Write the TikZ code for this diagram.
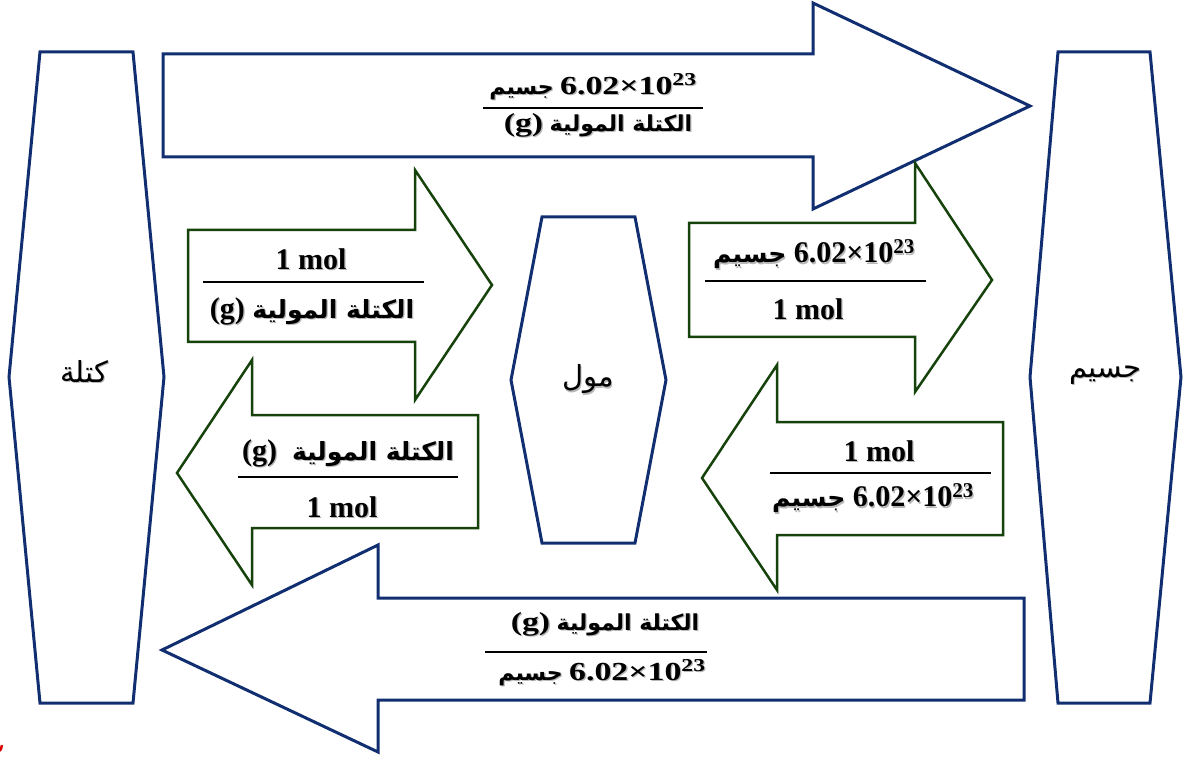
\documentclass[tikz,border=0pt]{standalone}
\usepackage{fontspec}
\usepackage{graphicx}
\setmainfont{Liberation Serif}
\newfontfamily\arabicfont[Script=Arabic]{DejaVu Sans}
\TeXXeTstate=1
\definecolor{navyline}{RGB}{16,46,112}
\definecolor{greenline}{RGB}{22,66,12}
\newcommand\ar[1]{{\arabicfont\beginR #1\endR}}
\newcommand\arw[1]{{\arabicfont\fontsize{25}{28}\selectfont\beginR #1\endR}}
\newcommand\arn[1]{{\arabicfont\fontsize{22}{24}\selectfont\beginR #1\endR}}
\newcommand\shd[1]{\rlap{\kern1.3pt\raisebox{-1.3pt}{\color{black!28}#1}}#1}
\newcommand\avog{6.02×10\textsuperscript{23}}
\newcommand\wide[1]{\scalebox{1.3}[1]{#1}}
\tikzset{
  hexa/.style={draw=navyline, line width=3pt, fill=white},
  bigarrow/.style={draw=navyline, line width=3pt, fill=white},
  smallarrow/.style={draw=greenline, line width=2.5pt, fill=white},
  hexlabel/.style={font=\fontsize{29}{34}\selectfont, inner sep=0pt},
  fractext/.style={font=\bfseries\fontsize{30}{34}\selectfont, inner sep=0pt},
  widetext/.style={font=\bfseries\fontsize{26}{30}\selectfont, inner sep=0pt},
  fracbar/.style={line width=1.3pt, black}
}
\begin{document}
\begin{tikzpicture}[x=1pt, y=-1pt]
  \useasboundingbox (0,0) rectangle (1184,759);

  % Big arrows
  \draw[bigarrow] (163,54) -- (813,54) -- (813,3) -- (1030,106) -- (813,209) -- (813,157) -- (163,157) -- cycle;
  \draw[bigarrow] (1024,598) -- (378,598) -- (378,545) -- (162,650) -- (378,752) -- (378,700) -- (1024,700) -- cycle;

  % Small arrows
  \draw[smallarrow] (188,230) -- (415,230) -- (415,170) -- (492,285) -- (415,400) -- (415,342) -- (188,342) -- cycle;
  \draw[smallarrow] (689,223) -- (915,223) -- (915,163) -- (992,280) -- (915,392) -- (915,337) -- (689,337) -- cycle;
  \draw[smallarrow] (478,415) -- (252,415) -- (252,360) -- (177,473) -- (252,585) -- (252,528) -- (478,528) -- cycle;
  \draw[smallarrow] (1003,422) -- (777,422) -- (777,365) -- (702,478) -- (777,590) -- (777,535) -- (1003,535) -- cycle;

  % Hexagons
  \draw[hexa] (40,52) -- (133,52) -- (164,377) -- (133,703) -- (40,703) -- (9,377) -- cycle;
  \draw[hexa] (542,217) -- (635,217) -- (666,380) -- (635,543) -- (542,543) -- (511,380) -- cycle;
  \draw[hexa] (1058,52) -- (1150,52) -- (1181,377) -- (1150,703) -- (1058,703) -- (1030,377) -- cycle;

  \node[hexlabel] (mass) at (84,372) {\shd{\ar{كتلة}}};
  \node[hexlabel] (mole) at (588,380) {\shd{\ar{مول}}};
  \node[hexlabel] (particle) at (1105,376) {\shd{\ar{جسيم}}};

  % Top arrow: mass -> particles
  \node[widetext] (topnum) at (593,87) {\shd{\arn{جسيم}~\wide{\avog}}};
  \node[widetext] (topden) at (598,126) {\shd{\wide{(g)}~\arn{الكتلة المولية}}};
  \draw[fracbar] (483,108) -- (703,108);

  % Bottom arrow: particles -> mass
  \node[widetext] (botnum) at (605,625) {\shd{\wide{(g)}~\arn{الكتلة المولية}}};
  \node[widetext] (botden) at (602,673) {\shd{\arn{جسيم}~\wide{\avog}}};
  \draw[fracbar] (485,652) -- (707,652);

  % Mass -> mole
  \node[fractext] (mmnum) at (311,260) {\shd{1 mol}};
  \node[fractext] (mmden) at (312,312) {\shd{(g)~\arw{الكتلة المولية}}};
  \draw[fracbar] (203,282) -- (424,282);

  % Mole -> mass
  \node[fractext] (msnum) at (348,454) {\shd{(g)~~\arw{الكتلة المولية}}};
  \node[fractext] (msden) at (342,508) {\shd{1 mol}};
  \draw[fracbar] (238,477) -- (458,477);

  % Mole -> particles
  \node[fractext] (mpnum) at (814,255) {\shd{\arw{جسيم}~\avog}};
  \node[fractext] (mpden) at (808,310) {\shd{1 mol}};
  \draw[fracbar] (705,281) -- (926,281);

  % Particles -> mole
  \node[fractext] (pmnum) at (879,452) {\shd{1 mol}};
  \node[fractext] (pmden) at (873,499) {\shd{\arw{جسيم}~\avog}};
  \draw[fracbar] (770,473) -- (991,473);

  % Corner mark
  \draw[red!85!black, line width=2.5pt] (-2,752) arc (60:0:8);
\end{tikzpicture}
\end{document}
